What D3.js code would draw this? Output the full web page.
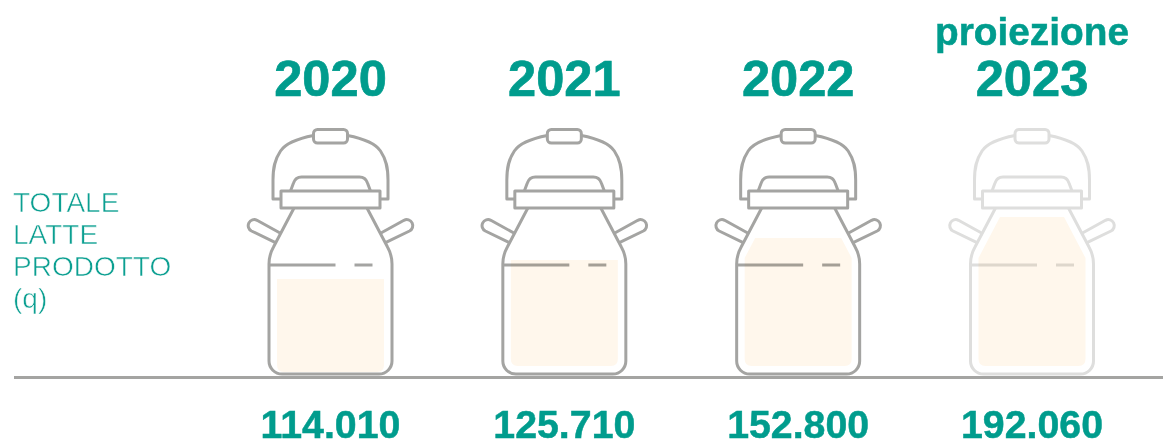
<!DOCTYPE html>
<html><head><meta charset="utf-8">
<script src="https://cdn.jsdelivr.net/npm/d3@7"></script>
<style>
html,body{margin:0;padding:0;background:#fff}
svg{display:block}
</style></head><body>
<script>
// ---- data ----
const years = ["2020","2021","2022","2023"];
const milkTotals = [114010,125710,152800,192060];
const totalLabels = ["114.010","125.710","152.800","192.060"];
const fillLevels = [56.1,68.4,82.6,96.1];       // how full each can is drawn, in %
const projected = [false,false,false,true];
const kicker = "proiezione";
const rowLabel = ["TOTALE","LATTE","PRODOTTO","(q)"];

// ---- layout ----
const W=1163,H=439,teal="#009c8d",grey="#a4a4a2";
const svg=d3.select("body").append("svg").attr("width",W).attr("height",H);
const x=d3.scalePoint().domain(years).range([330.5,1032]);
const level=d3.scaleLinear().domain([0,100]).range([366,211]);
const baseDrop=[6,0,0,0];
const boldFont="'Liberation Sans',Arial,sans-serif";

function dome(s){
  const p=d3.path();
  p.moveTo(s*17,135.5);
  p.bezierCurveTo(s*30,138,s*44,142,s*50,151);
  p.bezierCurveTo(s*56,160,s*57.5,168,s*57.5,180);
  p.lineTo(s*57.5,199);
  p.lineTo(s*49.5,199);
  return p.toString();
}
function handle(s){
  return `M${s*50},233.3L${s*73.5},220.3A6 6 0 0 ${s<0?0:1} ${s*79},231L${s*55.5},242.3`;
}
function body(){
  const p=d3.path();
  p.moveTo(-36.5,208);p.lineTo(-57,247);p.quadraticCurveTo(-61.5,255,-61.5,264);
  p.lineTo(-61.5,361);p.arcTo(-61.5,374,-48.5,374,13);
  p.lineTo(48.5,374);p.arcTo(61.5,374,61.5,361,13);
  p.lineTo(61.5,264);p.quadraticCurveTo(61.5,255,57,247);p.lineTo(36.5,208);
  p.moveTo(-40,191);p.lineTo(-37,183);p.quadraticCurveTo(-35,177,-29,177);
  p.lineTo(29,177);p.quadraticCurveTo(35,177,37,183);p.lineTo(40,191);
  return p.toString();
}
// the milk: the can's inner silhouette cut at the filled height
function milk(topY,bottomY){
  const hw=53.5, shoulderY=258, slope=21.5/41;
  const half=topY<shoulderY? hw-(shoulderY-topY)*slope : hw;
  const r=7, p=d3.path();
  p.moveTo(-half,topY);p.lineTo(half,topY);
  if(topY<shoulderY)p.lineTo(hw,shoulderY);
  p.lineTo(hw,bottomY-r);p.quadraticCurveTo(hw,bottomY,hw-r,bottomY);
  p.lineTo(-hw+r,bottomY);p.quadraticCurveTo(-hw,bottomY,-hw,bottomY-r);
  if(topY<shoulderY)p.lineTo(-hw,shoulderY);
  p.closePath();
  return p.toString();
}

const cans=svg.selectAll("g.can").data(years).join("g").attr("class","can")
  .attr("transform",d=>`translate(${x(d)},0)`);

const art=cans.append("g")
  .attr("fill","none").attr("stroke",(d,i)=>projected[i]?"#dededd":grey)
  .attr("stroke-width",3).attr("stroke-linejoin","round");
art.append("path").attr("d",body());
art.append("path").attr("d",dome(-1));
art.append("path").attr("d",dome(1));
art.append("path").attr("d",handle(-1));
art.append("path").attr("d",handle(1));
art.append("rect").attr("x",-17).attr("y",129.5).attr("width",34).attr("height",13.5).attr("rx",4);
art.append("rect").attr("x",-49.5).attr("y",191).attr("width",99).attr("height",17);
art.append("line").attr("x1",-61).attr("x2",5).attr("y1",265).attr("y2",265);
art.append("line").attr("x1",24).attr("x2",42).attr("y1",265).attr("y2",265);

cans.append("path")
  .attr("d",(d,i)=>milk(level(fillLevels[i]),level(0)+baseDrop[i]))
  .attr("fill","#fff7ec").style("mix-blend-mode","multiply");

// ground
svg.append("line").attr("x1",14).attr("x2",W).attr("y1",377.5).attr("y2",377.5)
  .attr("stroke",grey).attr("stroke-width",3);

// year headers
svg.selectAll("text.year").data(years).join("text").attr("class","year")
  .attr("x",d=>x(d)).attr("y",96).attr("text-anchor","middle")
  .attr("font-family",boldFont).attr("font-weight",700)
  .attr("font-size",50.6).attr("fill",teal).attr("stroke",teal).attr("stroke-width",0.7).text(d=>d);

svg.append("text").attr("x",x("2023")).attr("y",44.5).attr("text-anchor","middle")
  .attr("font-family",boldFont).attr("font-weight",700)
  .attr("font-size",38.8).attr("fill",teal).attr("stroke",teal).attr("stroke-width",0.5).text(kicker);

// totals
svg.selectAll("text.total").data(totalLabels).join("text").attr("class","total")
  .attr("x",(d,i)=>x(years[i])).attr("y",437.5).attr("text-anchor","middle")
  .attr("font-family",boldFont).attr("font-weight",700)
  .attr("font-size",39.3).attr("fill",teal).attr("stroke",teal).attr("stroke-width",0.5).text(d=>d);

// row label
svg.selectAll("text.row").data(rowLabel).join("text").attr("class","row")
  .attr("x",13).attr("y",(d,i)=>212+i*32)
  .attr("font-family",boldFont).attr("font-weight",400)
  .attr("font-size",28).attr("fill","#0b9f91")
  .attr("stroke","#fff").attr("stroke-width",0.55).text(d=>d);
</script>
</body></html>
